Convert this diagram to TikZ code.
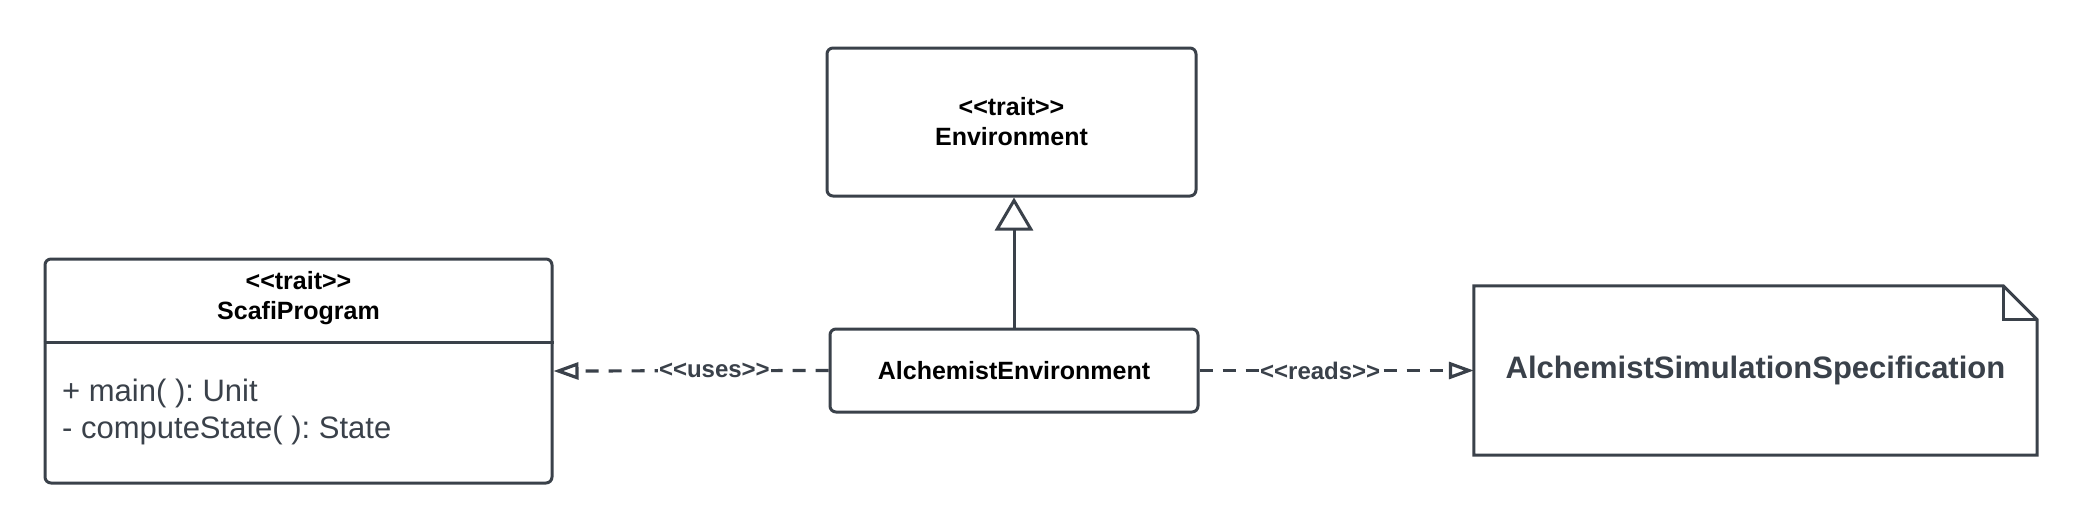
\documentclass[tikz,border=0pt]{standalone}
\usepackage{fontspec}
\setmainfont{Liberation Sans}[Ligatures=TeXOff]
\usetikzlibrary{arrows.meta}
\definecolor{ink}{RGB}{58,65,74}
\frenchspacing
\begin{document}
\begin{tikzpicture}[x=1pt,y=-1pt,
  box/.style={draw=ink, line width=3pt, rounded corners=6pt, inner sep=0pt, fill=white},
  boldtext/.style={font=\bfseries\fontsize{25}{30}\selectfont, align=center},
  membertext/.style={anchor=base west, font=\fontsize{31}{37}\selectfont, text=ink, inner sep=0pt},
  dep/.style={draw=ink, line width=3.2pt, dash pattern=on 13pt off 10pt, -{Triangle[length=25pt,width=17pt,fill=white]}},
  inh/.style={draw=ink, line width=3pt, -{Triangle[length=33pt,width=38pt,fill=white]}},
  lbl/.style={fill=white, text=ink, font=\bfseries\fontsize{24}{28}\selectfont, inner sep=1pt}
]
\useasboundingbox (0,0) rectangle (2082,528);

% Environment
\node[box, boldtext, minimum width=369pt, minimum height=148pt] (env) at (1011.5,122) {<<trait>>\\Environment};

% ScafiProgram class
\node[box, minimum width=507pt, minimum height=224pt] (scafi) at (298.5,371) {};
\coordinate (divy) at (0,342);
\draw[ink, line width=3pt] (scafi.west |- divy) -- (scafi.east |- divy);
\node[boldtext] (scafit) at (298.5,298) {<<trait>>\\ScafiProgram};
\node[membertext] (m1) at (62,401) {+ main( ): Unit};
\node[membertext] (m2) at (62,438) {- computeState( ): State};

% AlchemistEnvironment
\node[box, boldtext, minimum width=368pt, minimum height=83pt] (alch) at (1014,370.5) {AlchemistEnvironment};

% Note
\node[minimum width=563pt, minimum height=169pt, inner sep=0pt, font=\bfseries\fontsize{31}{37}\selectfont, text=ink] (spec) at (1755.5,370.5) {AlchemistSimulationSpecification};
\draw[ink, line width=3pt, line join=miter]
  (spec.north west) -- ([xshift=-34pt]spec.north east) -- ([yshift=-34pt]spec.north east)
  -- (spec.south east) -- (spec.south west) -- cycle;
\draw[ink, line width=3pt, line join=miter]
  ([xshift=-34pt]spec.north east) -- ([xshift=-34pt,yshift=-34pt]spec.north east) -- ([yshift=-34pt]spec.north east);

% connectors
\draw[dep] (alch.west) -- node[lbl, pos=0.415] {<<uses>>} (scafi.east);
\draw[dep] (alch.east) -- node[lbl, pos=0.44] {<<reads>>} (spec.west);
\draw[inh] (alch.north) -- (alch.north |- env.south);
\end{tikzpicture}
\end{document}
